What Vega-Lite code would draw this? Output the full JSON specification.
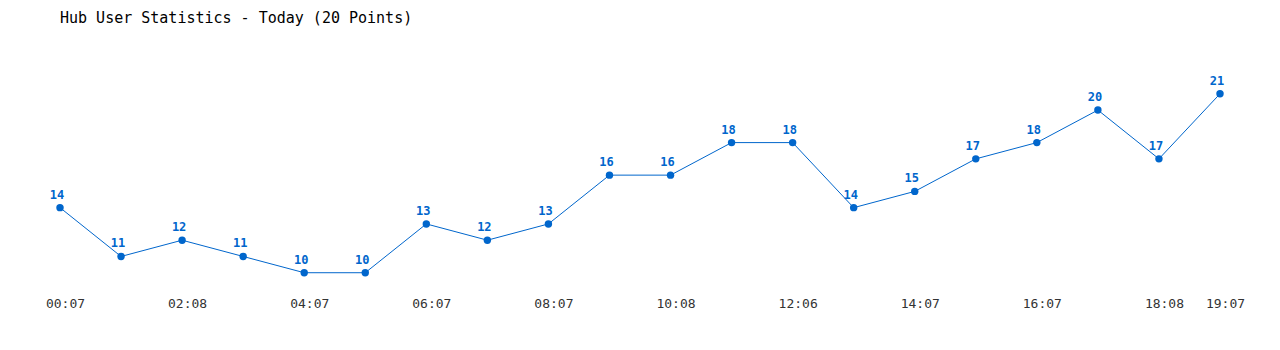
{
  "$schema": "https://vega.github.io/schema/vega-lite/v6.json",
  "width": 1160,
  "height": 244,
  "autosize": {"type": "none"},
  "padding": {"left": 60, "top": 45, "right": 60, "bottom": 61},
  "background": "white",
  "title": {
    "text": "Hub User Statistics - Today (20 Points)",
    "anchor": "start",
    "frame": "group",
    "font": "DejaVu Sans Mono",
    "fontSize": 15,
    "fontWeight": "normal",
    "color": "#000000",
    "offset": 19
  },
  "config": {"view": {"stroke": null}},
  "data": {
    "values": [
      {"time": "00:07", "users": 14},
      {"time": "01:07", "users": 11},
      {"time": "02:08", "users": 12},
      {"time": "03:07", "users": 11},
      {"time": "04:07", "users": 10},
      {"time": "05:07", "users": 10},
      {"time": "06:07", "users": 13},
      {"time": "07:07", "users": 12},
      {"time": "08:07", "users": 13},
      {"time": "09:07", "users": 16},
      {"time": "10:08", "users": 16},
      {"time": "11:07", "users": 18},
      {"time": "12:06", "users": 18},
      {"time": "13:07", "users": 14},
      {"time": "14:07", "users": 15},
      {"time": "15:07", "users": 17},
      {"time": "16:07", "users": 18},
      {"time": "17:07", "users": 20},
      {"time": "18:08", "users": 17},
      {"time": "19:07", "users": 21}
    ]
  },
  "encoding": {
    "x": {
      "field": "time",
      "type": "ordinal",
      "sort": null,
      "scale": {"type": "point", "padding": 0},
      "axis": {
        "title": null,
        "values": ["00:07", "02:08", "04:07", "06:07", "08:07", "10:08", "12:06", "14:07", "16:07", "18:08", "19:07"],
        "labelAngle": 0,
        "domain": false,
        "ticks": false,
        "grid": false,
        "labelPadding": 8,
        "labelOffset": 5,
        "labelFont": "DejaVu Sans Mono",
        "labelFontSize": 13,
        "labelColor": "#333333"
      }
    },
    "y": {
      "field": "users",
      "type": "quantitative",
      "scale": {"domain": [9, 24], "zero": false, "nice": false},
      "axis": null
    }
  },
  "layer": [
    {"mark": {"type": "line", "color": "#0066cc", "strokeWidth": 1}},
    {"mark": {"type": "point", "filled": true, "color": "#0066cc", "size": 55, "opacity": 1}},
    {
      "mark": {
        "type": "text",
        "color": "#0066cc",
        "font": "DejaVu Sans Mono",
        "fontSize": 12,
        "fontWeight": "bold",
        "baseline": "bottom",
        "dy": -6,
        "dx": -3
      },
      "encoding": {"text": {"field": "users", "type": "quantitative"}}
    }
  ]
}
